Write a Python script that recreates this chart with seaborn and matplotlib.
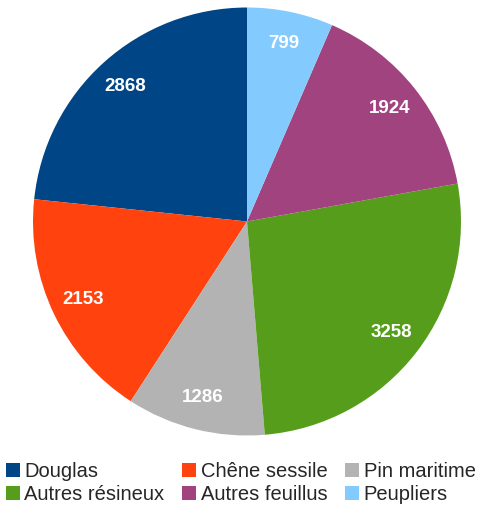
import matplotlib
matplotlib.use("Agg")
import matplotlib.pyplot as plt
import seaborn as sns
from matplotlib.lines import Line2D

especes = ["Douglas", "Chêne sessile", "Pin maritime",
           "Autres résineux", "Autres feuillus", "Peupliers"]
volumes = [2868, 2153, 1286, 3258, 1924, 799]
couleurs = ["#004586", "#ff420e", "#b3b3b3", "#579d1c", "#a0437e", "#83caff"]

sns.set_theme(style="white")
plt.rcParams["font.family"] = ["Liberation Sans", "DejaVu Sans"]

fig = plt.figure(figsize=(4.82, 5.16), dpi=100)
ax = fig.add_axes([33 / 482, 79 / 516, 428 / 482, 431 / 516])

wedges, _, autotexts = ax.pie(
    volumes,
    colors=sns.color_palette(couleurs),
    startangle=90,
    counterclock=True,
    autopct=lambda p: f"{round(p * sum(volumes) / 100):d}",
    pctdistance=0.85,
    wedgeprops={"linewidth": 0},
    textprops={"color": "white", "fontsize": 13.5, "fontweight": "bold"},
)
ax.set_xlim(-1, 1)
ax.set_ylim(-1, 1)
ax.set_aspect("equal")

# legende en lignes : Douglas, Chêne, Pin / Autres résineux, Autres feuillus, Peupliers
ordre = [0, 3, 1, 4, 2, 5]
handles = [Line2D([], [], marker="s", linestyle="", markersize=10,
                  markerfacecolor=couleurs[i], markeredgewidth=0) for i in ordre]
labels = [especes[i] for i in ordre]
fig.legend(handles, labels, loc="lower center", bbox_to_anchor=(0.5, 0.0),
           ncol=3, frameon=False, fontsize=14.5, handlelength=0.65,
           handletextpad=0.25, columnspacing=0.9, labelspacing=0.2,
           borderaxespad=0.2)

fig.savefig("out.png", dpi=100)
